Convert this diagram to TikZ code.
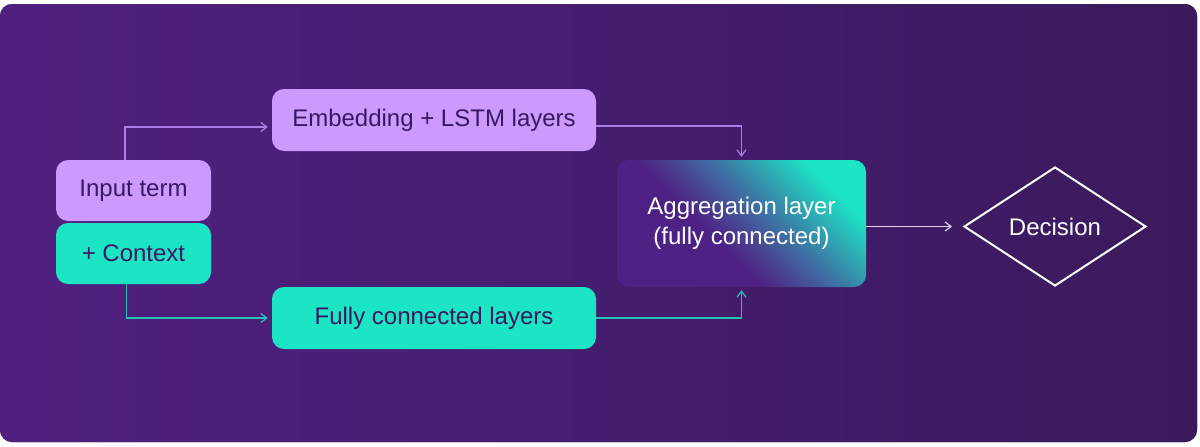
\documentclass[tikz,border=0pt]{standalone}
\usepackage{fontspec}
\setmainfont{Liberation Sans}
\usetikzlibrary{shapes.geometric, arrows.meta, calc}

\definecolor{bgleft}{RGB}{80,32,128}
\definecolor{bgright}{RGB}{58,26,92}
\definecolor{lavender}{RGB}{204,153,255}
\definecolor{mint}{RGB}{27,229,196}
\definecolor{ink}{RGB}{58,24,94}
\definecolor{linelav}{RGB}{172,124,228}
\definecolor{lineteal}{RGB}{36,192,182}
\definecolor{lineout}{RGB}{226,208,244}
\definecolor{aggpurple}{RGB}{78,33,132}
\definecolor{aggmid}{RGB}{66,98,158}

\pgfdeclarehorizontalshading{aggshade}{100bp}{color(0bp)=(aggpurple); color(42bp)=(aggpurple); color(54bp)=(aggmid); color(74bp)=(mint); color(100bp)=(mint)}

\begin{document}
\begin{tikzpicture}[x=1pt, y=-1pt,
  every node/.style={font=\fontsize{24}{30}\selectfont},
  box/.style={rounded corners=12pt, align=center, inner sep=0pt},
  link/.style={line width=1.2pt, -{Straight Barb[length=6pt, width=9pt]}}]

% Background card
\fill[white] (0,0) rectangle (1200,447);
\fill[rounded corners=12pt, left color=bgleft, right color=bgright] (0,4) rectangle (1197,442);
\useasboundingbox (0,0) rectangle (1200,447);

% Inputs
\node[box, fill=lavender, text=ink, minimum width=155pt, minimum height=61pt] (input) at (133.5,190.5) {Input term};
\node[box, fill=mint, text=ink, minimum width=155pt, minimum height=61pt] (context) at (133.5,253.5) {+ Context};

% Two branches
\node[box, fill=lavender, text=ink, minimum width=324pt, minimum height=62pt] (embed) at (434,120) {Embedding + LSTM layers};
\node[box, fill=mint, text=ink, minimum width=324pt, minimum height=62pt] (fully) at (434,318) {Fully connected layers};

% Aggregation
\node[box, shading=aggshade, shading angle=45, text=white, minimum width=249pt, minimum height=127pt] (agg) at (741.5,223.5) {Aggregation layer\\(fully connected)};

% Decision
\node[draw=white, line width=2pt, diamond, aspect=1.53, inner sep=0pt, minimum width=182pt, minimum height=119pt, text=white] (dec) at (1055,226.5) {Decision};

% Connections
\draw[link, linelav, shorten >=4pt] ([xshift=-8.5pt]input.north) |- ([yshift=-7pt]embed.west);
\draw[link, linelav, shorten >=3pt] ([yshift=-6pt]embed.east) -| (agg.north);
\draw[link, lineteal, shorten >=4pt] ([xshift=-7pt]context.south) |- (fully.west);
\draw[link, lineteal, shorten >=3pt] (fully.east) -| (agg.south);
\draw[link, lineout, shorten >=11pt] (agg.east |- dec.west) -- (dec.west);
\end{tikzpicture}
\end{document}
